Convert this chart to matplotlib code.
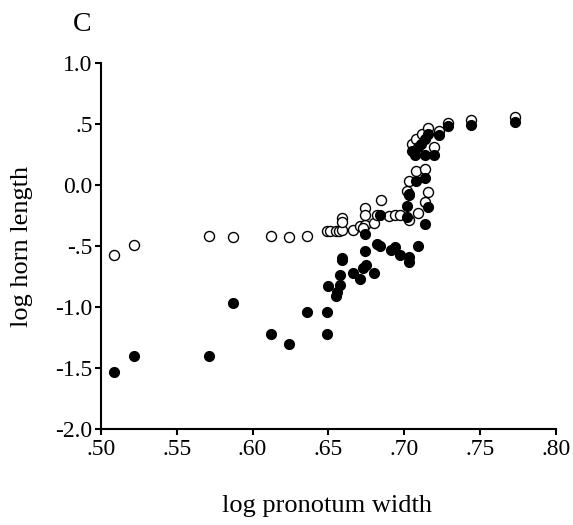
import matplotlib
matplotlib.use("Agg")
import matplotlib.pyplot as plt

open_x = [0.509, 0.522, 0.571, 0.587, 0.6125, 0.624, 0.636, 0.649, 0.651, 0.655,
          0.657, 0.659, 0.659, 0.659, 0.666, 0.671, 0.674, 0.673, 0.674, 0.674,
          0.680, 0.682, 0.690, 0.694, 0.697, 0.685, 0.703, 0.702, 0.703, 0.708,
          0.714, 0.709, 0.714, 0.716, 0.705, 0.708, 0.712, 0.716, 0.720, 0.723,
          0.729, 0.744, 0.773]
open_y = [-0.57, -0.49, -0.415, -0.43, -0.415, -0.43, -0.415, -0.38, -0.38, -0.375,
          -0.38, -0.37, -0.27, -0.30, -0.37, -0.34, -0.33, -0.35, -0.19, -0.25,
          -0.31, -0.25, -0.255, -0.25, -0.245, -0.12, -0.29, -0.05, 0.035, 0.117,
          0.13, -0.23, -0.14, -0.055, 0.34, 0.375, 0.42, 0.465, 0.31, 0.445,
          0.51, 0.53, 0.555]

filled_x = [0.509, 0.522, 0.571, 0.587, 0.6125, 0.624, 0.636, 0.649, 0.649, 0.650,
            0.655, 0.656, 0.658, 0.658, 0.659, 0.659, 0.666, 0.671, 0.673, 0.675,
            0.674, 0.674, 0.680, 0.682, 0.684, 0.684, 0.691, 0.694, 0.697, 0.703,
            0.703, 0.709, 0.702, 0.702, 0.703, 0.703, 0.708, 0.714, 0.716, 0.714,
            0.705, 0.707, 0.709, 0.711, 0.714, 0.716, 0.714, 0.720, 0.723, 0.729,
            0.744, 0.773]
filled_y = [-1.53, -1.40, -1.40, -0.965, -1.22, -1.30, -1.04, -1.04, -1.22, -0.83,
            -0.91, -0.88, -0.74, -0.82, -0.60, -0.615, -0.72, -0.77, -0.68, -0.66,
            -0.54, -0.40, -0.72, -0.48, -0.50, -0.25, -0.53, -0.505, -0.57, -0.59,
            -0.63, -0.50, -0.265, -0.17, -0.08, -0.07, 0.035, 0.055, -0.18, -0.32,
            0.28, 0.245, 0.31, 0.34, 0.38, 0.42, 0.245, 0.245, 0.41, 0.48,
            0.49, 0.52]

x_ticks = [0.50, 0.55, 0.60, 0.65, 0.70, 0.75, 0.80]
x_labels = [".50", ".55", ".60", ".65", ".70", ".75", ".80"]
y_ticks = [1.0, 0.5, 0.0, -0.5, -1.0, -1.5, -2.0]
y_labels = ["1.0", ".5", "0.0", "-.5", "-1.0", "-1.5", "-2.0"]

plt.rcParams['font.family'] = ['Liberation Serif', 'DejaVu Serif']

fig = plt.figure(figsize=(5.73, 5.25), dpi=100)
ax = fig.add_axes([0.176, 0.183, 0.794, 0.697])

ax.scatter(open_x, open_y, s=52, facecolors='white', edgecolors='black',
           linewidths=1.0, zorder=3, clip_on=False)
ax.scatter(filled_x, filled_y, s=52, facecolors='black', edgecolors='black',
           linewidths=0.8, zorder=4, clip_on=False)

ax.set_xlim(0.50, 0.80)
ax.set_ylim(-2.0, 1.0)
ax.set_xticks(x_ticks)
ax.set_xticklabels(x_labels)
ax.set_yticks(y_ticks)
ax.set_yticklabels(y_labels)

for s in ['top', 'right']:
    ax.spines[s].set_visible(False)
for s in ['left', 'bottom']:
    ax.spines[s].set_linewidth(1.5)
ax.tick_params(direction='out', length=4, width=1.5, labelsize=17)
ax.tick_params(axis='x', pad=3)
ax.tick_params(axis='y', pad=2)

ax.set_xlabel("log pronotum width", fontsize=19)
ax.set_ylabel("log horn length", fontsize=19)
ax.xaxis.set_label_coords(0.497, -0.211)
ax.xaxis.label.set_va('center')
ax.yaxis.set_label_coords(-0.173, 0.5)
ax.yaxis.label.set_va('center')
fig.text(0.143, 0.954, "C", fontsize=20, ha='center', va='center')

fig.savefig("out.png", dpi=100)
